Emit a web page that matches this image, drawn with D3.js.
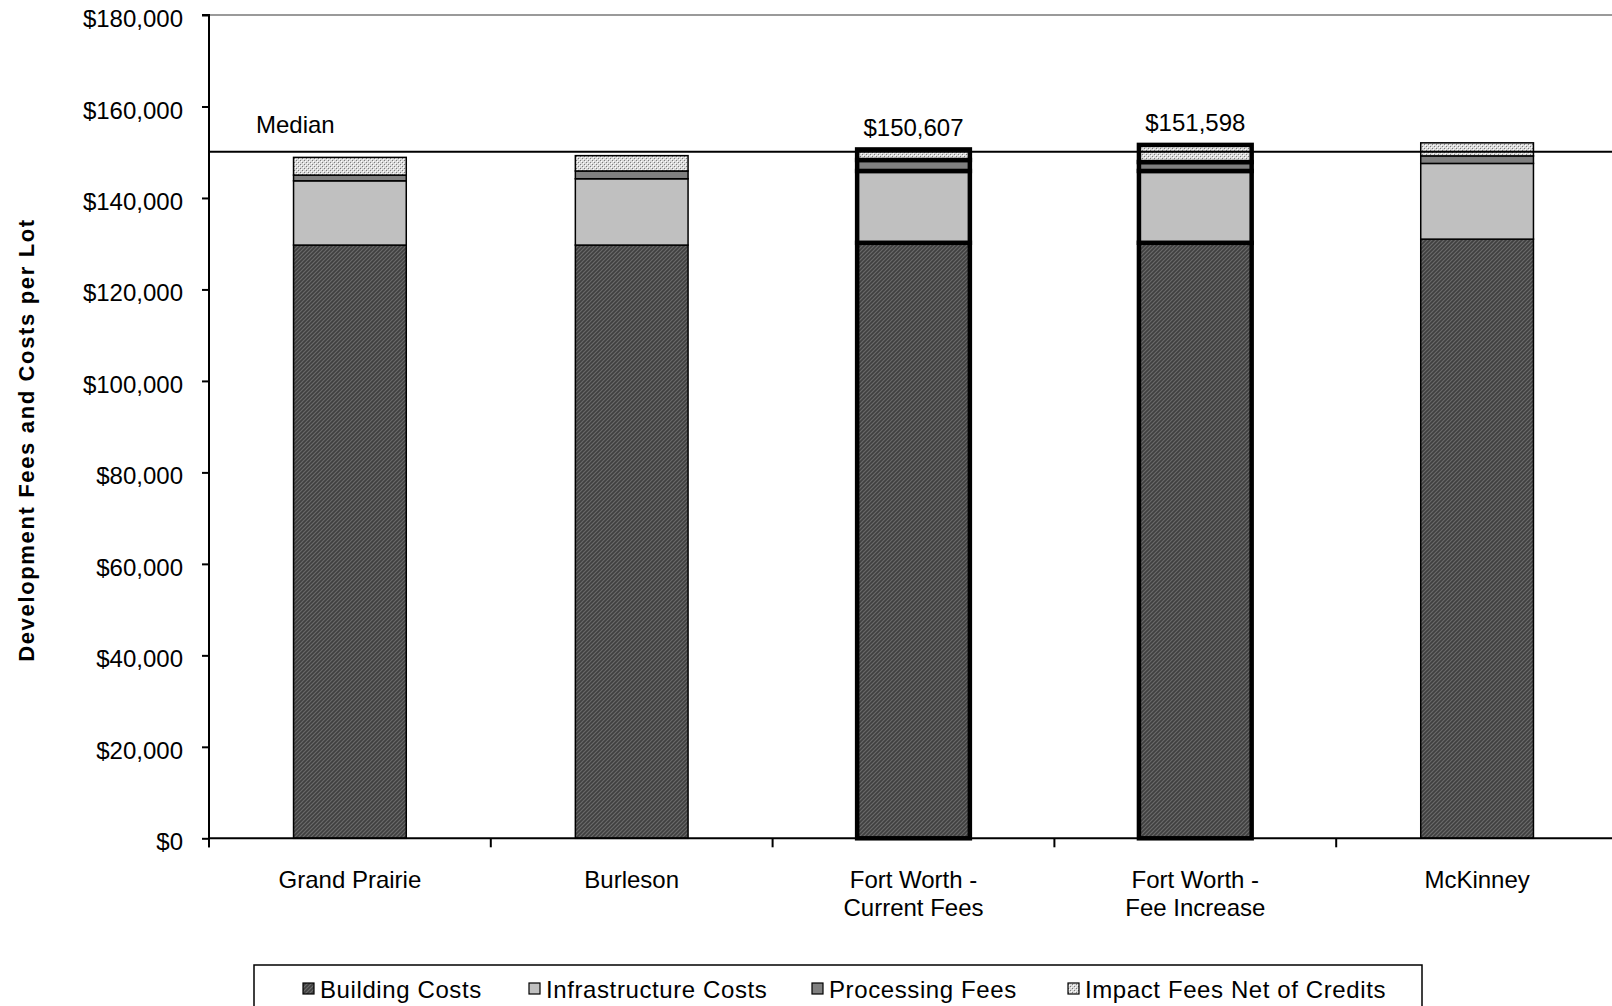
<!DOCTYPE html>
<html>
<head>
<meta charset="utf-8">
<script src="https://cdn.jsdelivr.net/npm/d3@7/dist/d3.min.js"></script>
<style>
  html, body { margin: 0; padding: 0; background: #fff; }
  svg { display: block; font-family: "Liberation Sans", Arial, sans-serif; }
</style>
</head>
<body>
<svg id="chart" width="1612" height="1006"></svg>
<script>
// Development fees and costs per lot, by city
const categories = ["Grand Prairie", "Burleson", "Fort Worth - Current Fees", "Fort Worth - Fee Increase", "McKinney"];
const categoryLabelLines = [["Grand Prairie"], ["Burleson"], ["Fort Worth -", "Current Fees"], ["Fort Worth -", "Fee Increase"], ["McKinney"]];
const seriesNames = ["Building Costs", "Infrastructure Costs", "Processing Fees", "Impact Fees Net of Credits"];
const buildingCosts = [129700, 129700, 130200, 130200, 131000];
const infrastructureCosts = [14050, 14500, 15700, 15700, 16550];
const processingFees = [1250, 1700, 2400, 1950, 1650];
const impactFees = [3870, 3350, 2307, 3748, 2850];
const highlightedCategories = ["Fort Worth - Current Fees", "Fort Worth - Fee Increase"];
const medianValue = 150100;
const yTickValues = [0, 20000, 40000, 60000, 80000, 100000, 120000, 140000, 160000, 180000];

const W = 1612, H = 1006;
const plot = { left: 209, right: 1618, top: 15, bottom: 838.3 };
const FONT = 24;

const svg = d3.select("#chart");
svg.append("rect").attr("width", W).attr("height", H).attr("fill", "#fff");

// Fill patterns
const defs = svg.append("defs");
const hatch = defs.append("pattern").attr("id", "pat-building")
  .attr("patternUnits", "userSpaceOnUse").attr("width", 4).attr("height", 4);
hatch.append("rect").attr("width", 4).attr("height", 4).attr("fill", "#404040");
hatch.append("path").attr("d", "M-1,1 L1,-1 M0,4 L4,0 M3,5 L5,3")
  .attr("stroke", "#6a6a6a").attr("stroke-width", 1.2);

const dots = defs.append("pattern").attr("id", "pat-impact")
  .attr("patternUnits", "userSpaceOnUse").attr("width", 4).attr("height", 4);
dots.append("rect").attr("width", 4).attr("height", 4).attr("fill", "#dadada");
dots.append("rect").attr("x", 0).attr("y", 0).attr("width", 1).attr("height", 1).attr("fill", "#7c7c7c");
dots.append("rect").attr("x", 2).attr("y", 2).attr("width", 1).attr("height", 1).attr("fill", "#7c7c7c");
dots.append("rect").attr("x", 1).attr("y", 1).attr("width", 1).attr("height", 1).attr("fill", "#ffffff");
dots.append("rect").attr("x", 3).attr("y", 3).attr("width", 1).attr("height", 1).attr("fill", "#ffffff");

const seriesFills = ["url(#pat-building)", "#c0c0c0", "#808080", "url(#pat-impact)"];

// Table for stacking
const rows = categories.map((c, i) => ({
  category: c,
  "Building Costs": buildingCosts[i],
  "Infrastructure Costs": infrastructureCosts[i],
  "Processing Fees": processingFees[i],
  "Impact Fees Net of Credits": impactFees[i]
}));
const stacked = d3.stack().keys(seriesNames)(rows);
const totals = rows.map(r => d3.sum(seriesNames, k => r[k]));

// Scales
const x = d3.scaleBand().domain(categories).range([plot.left, plot.right])
  .paddingInner(0.6).paddingOuter(0.3);
const step = x.step();
const y = d3.scaleLinear().domain([0, 180000]).range([plot.bottom, plot.top]);

// Plot area top border
svg.append("line")
  .attr("x1", plot.left).attr("x2", W).attr("y1", plot.top).attr("y2", plot.top)
  .attr("stroke", "#9a9a9a").attr("stroke-width", 2);

// Bars
const layers = svg.append("g").selectAll("g").data(stacked).join("g")
  .attr("fill", (d, i) => seriesFills[i]);
layers.selectAll("rect").data(d => d).join("rect")
  .attr("x", d => x(d.data.category))
  .attr("width", x.bandwidth())
  .attr("y", d => y(d[1]))
  .attr("height", d => y(d[0]) - y(d[1]))
  .attr("stroke", "#000")
  .attr("stroke-width", d => highlightedCategories.includes(d.data.category) ? 4.5 : 1.5);

// Median line and label
svg.append("line")
  .attr("x1", plot.left).attr("x2", W)
  .attr("y1", y(medianValue)).attr("y2", y(medianValue))
  .attr("stroke", "#000").attr("stroke-width", 2);
svg.append("text").attr("x", 256).attr("y", y(medianValue) - 18.5)
  .attr("font-size", FONT).attr("fill", "#000").text("Median");

// Total labels on the highlighted bars
const fmt = d3.format("$,");
svg.append("g").selectAll("text")
  .data(categories.map((c, i) => ({ c, total: totals[i] })).filter(d => highlightedCategories.includes(d.c)))
  .join("text")
  .attr("x", d => x(d.c) + x.bandwidth() / 2)
  .attr("y", d => y(d.total) - 13.5)
  .attr("text-anchor", "middle").attr("font-size", FONT).attr("fill", "#000")
  .text(d => fmt(d.total));

// Y axis
const yAxis = d3.axisLeft(y).tickValues(yTickValues).tickSize(7).tickPadding(19)
  .tickFormat(d => fmt(d));
const gy = svg.append("g").attr("transform", `translate(${plot.left},0)`).call(yAxis);
gy.select(".domain").attr("stroke", "#000").attr("stroke-width", 2)
  .attr("d", `M-7,${plot.top}H0V${plot.bottom + 9}`);
gy.selectAll(".tick line").attr("stroke", "#000").attr("stroke-width", 2);
gy.selectAll(".tick text").attr("font-size", FONT).attr("fill", "#000")
  .attr("font-family", "'Liberation Sans', Arial, sans-serif").attr("dy", "0.48em");

// X axis: baseline with ticks at category boundaries
const gx = svg.append("g");
gx.append("line").attr("x1", plot.left).attr("x2", W)
  .attr("y1", plot.bottom).attr("y2", plot.bottom)
  .attr("stroke", "#000").attr("stroke-width", 2);
gx.selectAll("line.tick").data(d3.range(categories.length + 1)).join("line")
  .attr("class", "tick")
  .attr("x1", i => plot.left + i * step).attr("x2", i => plot.left + i * step)
  .attr("y1", plot.bottom).attr("y2", plot.bottom + 9)
  .attr("stroke", "#000").attr("stroke-width", 2);
const catLabels = gx.selectAll("text").data(categories).join("text")
  .attr("text-anchor", "middle").attr("font-size", FONT).attr("fill", "#000")
  .attr("transform", d => `translate(${x(d) + x.bandwidth() / 2},888)`);
catLabels.selectAll("tspan").data((d, i) => categoryLabelLines[i]).join("tspan")
  .attr("x", 0).attr("y", (d, j) => j * 27.5).text(d => d);

// Y axis title
svg.append("text")
  .attr("transform", "translate(34,440) rotate(-90)")
  .attr("text-anchor", "middle").attr("font-size", 22).attr("font-weight", "bold")
  .attr("letter-spacing", 1.65).attr("fill", "#000")
  .text("Development Fees and Costs per Lot");

// Legend
const legend = svg.append("g");
legend.append("rect").attr("x", 254).attr("y", 965).attr("width", 1168).attr("height", 60)
  .attr("fill", "#fff").attr("stroke", "#000").attr("stroke-width", 1.5);
const legendX = [303, 529, 812, 1068];
const items = legend.selectAll("g.item").data(seriesNames).join("g").attr("class", "item")
  .attr("transform", (d, i) => `translate(${legendX[i]},0)`);
items.append("rect").attr("x", 0).attr("y", 983).attr("width", 11).attr("height", 11)
  .attr("fill", (d, i) => seriesFills[i]).attr("stroke", "#000").attr("stroke-width", 1.2);
items.append("text").attr("x", 17).attr("y", 997.5).attr("font-size", FONT)
  .attr("letter-spacing", 0.6).attr("fill", "#000").text(d => d);
</script>
</body>
</html>
